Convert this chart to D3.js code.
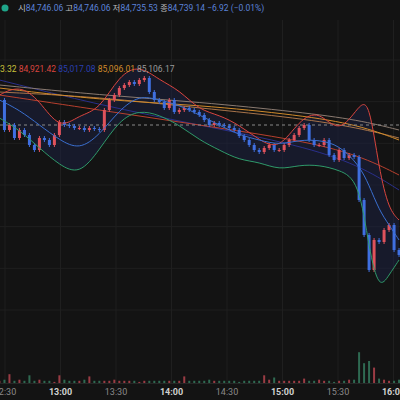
<!DOCTYPE html>
<html><head><meta charset="utf-8">
<script src="https://cdn.jsdelivr.net/npm/d3@7"></script>
<style>body{margin:0;background:#131313}svg{display:block}text{font-family:Roboto,"Noto Sans CJK KR",sans-serif}</style>
</head><body><svg id="c" width="400" height="400"></svg>
<script>
// closes, one candle every ~2.7 minutes from 12:27
const closes = [85040,84950,84965,84926,84950,84935,84905,84890,84926,84920,84905,84935,84974,84965,84962,84956,84956,84950,84956,84953,
  84950,85010,85040,85055,85076,85085,85094,85088,85100,85106,85064,85040,85034,85016,85040,85004,85010,85016,85010,85004,
  84995,84980,84965,84971,84965,84962,84956,84950,84932,84920,84905,84890,84884,84896,84905,84890,84890,84905,84920,84935,
  84956,84965,84920,84905,84905,84920,84875,84860,84890,84866,84875,84869,84740,84635,84530,84620,84614,84650,84665,84590,84575];
const volumes = [2,3,8,2,3,2,7,2,3,2,2,1,7,3,2,2,2,3,6,2,
  2,2,2,3,2,2,2,2,1,2,2,2,2,2,2,2,2,6,2,2,
  2,2,3,2,2,2,2,2,1,2,2,2,2,7,3,5,2,2,2,2,
  2,4,2,2,3,2,2,1,2,2,3,3,28,18,20,14,4,3,2,2,3];
const bandIdx = [0,4,8,12,16,20,24,28,32,36,40,44,48,52,56,60,64,68,72,74,76,78,80];
const upper = [85055,85085,85040,84950,84995,85010,85115,85145,85100,85070,85010,84995,84965,84920,84890,84980,85010,84935,85025,85040,84830,84710,84680];
const middle = [85040,85010,84965,84920,84890,84935,85010,85055,85040,85025,84995,84965,84935,84920,84905,84920,84920,84905,84845,84785,84710,84665,84620];
const lower = [84986,84950,84896,84845,84815,84890,84980,85010,84995,84965,84920,84890,84860,84854,84830,84845,84845,84830,84800,84590,84470,84515,84560];
const maIdx = [0,20,40,60,72,80];
const maOrange = [85076,85040,85025,84995,84965,84920];
const maTan = [85064,85049,85016,84986,84956,84926];
const maGrey = [85085,85055,85034,85004,84980,84950];
const maRed = [85055,85010,84965,84920,84875,84815];
const maPurple = [85100,85025,84965,84905,84845,84770];
const timeTicks = ["12:30","13:00","13:30","14:00","14:30","15:00","15:30","16:00"];
const tickMin = [750,780,810,840,870,900,930,960];
const refPrice = 84965;

const svg = d3.select("#c");
svg.append("rect").attr("width",400).attr("height",400).attr("fill","#131313");
const x = d3.scaleLinear().domain([750,780]).range([5,60.5]);
const tAt = i => 747 + i*2.7;
const y = d3.scaleLinear().domain([85340,84140]).range([0,400]);
const yv = d3.scaleLinear().domain([0,30]).range([383,350]);

// grid
svg.append("g").selectAll("line").data(d3.range(85160,84400,-125)).join("line")
  .attr("x1",0).attr("x2",400).attr("y1",d=>y(d)).attr("y2",d=>y(d)).attr("stroke","#1f1f1f");
svg.append("g").selectAll("line").data(tickMin).join("line")
  .attr("x1",d=>x(d)).attr("x2",d=>x(d)).attr("y1",20).attr("y2",383).attr("stroke","#1f1f1f");

// band fill
const bx = i => x(tAt(bandIdx[i]));
svg.append("path").datum(d3.range(bandIdx.length))
  .attr("d",d3.area().x(bx).y0(i=>y(upper[i])).y1(i=>y(lower[i])).curve(d3.curveBasis))
  .attr("fill","#1b2140").attr("opacity",0.55);

function line(idx, vals, color, w, dash){
  svg.append("path").datum(d3.range(idx.length))
    .attr("d",d3.line().x(i=>x(tAt(idx[i]))).y(i=>y(vals[i])).curve(d3.curveBasis))
    .attr("fill","none").attr("stroke",color).attr("stroke-width",w||1).attr("stroke-dasharray",dash||null);
}
line(maIdx,maPurple,"#2a2f8a",1);
line(maIdx,maGrey,"#8a7a70",1);
line(maIdx,maTan,"#a8744a",1);
line(maIdx,maOrange,"#d08a2a",1);
line(maIdx,maRed,"#b8402e",1);
svg.append("line").attr("x1",0).attr("x2",400).attr("y1",y(refPrice)).attr("y2",y(refPrice))
  .attr("stroke","#8a8a8a").attr("stroke-dasharray","3,3");

// candles
const cw = 3;
const g = svg.append("g");
closes.forEach((c,i)=>{
  if(i===0) return;
  const o = closes[i-1], up = c>=o, col = up?"#e0525c":"#3f6fe0";
  const cx = x(tAt(i));
  g.append("line").attr("x1",cx).attr("x2",cx).attr("y1",y(Math.max(o,c)+6)).attr("y2",y(Math.min(o,c)-6)).attr("stroke",col);
  g.append("rect").attr("x",cx-cw/2).attr("width",cw)
    .attr("y",y(Math.max(o,c))).attr("height",Math.max(1,y(Math.min(o,c))-y(Math.max(o,c)))).attr("fill",col);
});

line(bandIdx,upper,"#d9453f",1);
line(bandIdx,middle,"#3a6fd0",1);
line(bandIdx,lower,"#2f9a6a",1);

// volume
svg.append("g").selectAll("rect").data(volumes).join("rect")
  .attr("x",(d,i)=>x(tAt(i))-1).attr("width",2)
  .attr("y",d=>yv(d)).attr("height",d=>383-yv(d))
  .attr("fill",(d,i)=>i>0&&closes[i]<closes[i-1]?"#2f6a52":"#9a3c44");
svg.append("line").attr("x1",0).attr("x2",400).attr("y1",383.5).attr("y2",383.5).attr("stroke","#262626");

// time labels
svg.append("g").selectAll("text").data(timeTicks).join("text")
  .attr("x",(d,i)=>x(tickMin[i])).attr("y",395).attr("text-anchor","middle")
  .attr("font-size",9).attr("font-weight",(d,i)=>i%2?700:400)
  .attr("fill",(d,i)=>i%2?"#d0d0d0":"#8a8a8a").text(d=>d);

// top legend
svg.append("circle").attr("cx",5).attr("cy",8).attr("r",3.5).attr("fill","#1fa58a");
const ohlc = svg.append("text").attr("x",18).attr("y",11).attr("font-size",8.5);
[["시","#bbb"],["84,746.06 ","#5b82d8"],["고","#bbb"],["84,746.06 ","#5b82d8"],["저","#bbb"],["84,735.53 ","#5b82d8"],
 ["종","#bbb"],["84,739.14 ","#5b82d8"],["−6.92 (−0.01%)","#5b82d8"]].forEach(([t,c])=>ohlc.append("tspan").attr("fill",c).text(t));
const leg = svg.append("text").attr("x",0).attr("y",72).attr("font-size",8.5);
[["3.32 ","#c9c23a"],["84,921.42 ","#d9453f"],["85,017.08 ","#2a3fb0"],["85,096.01 ","#d08a2a"],["85,106.17","#9a9a9a"]]
  .forEach(([t,c])=>leg.append("tspan").attr("fill",c).text(t));
</script></body></html>
